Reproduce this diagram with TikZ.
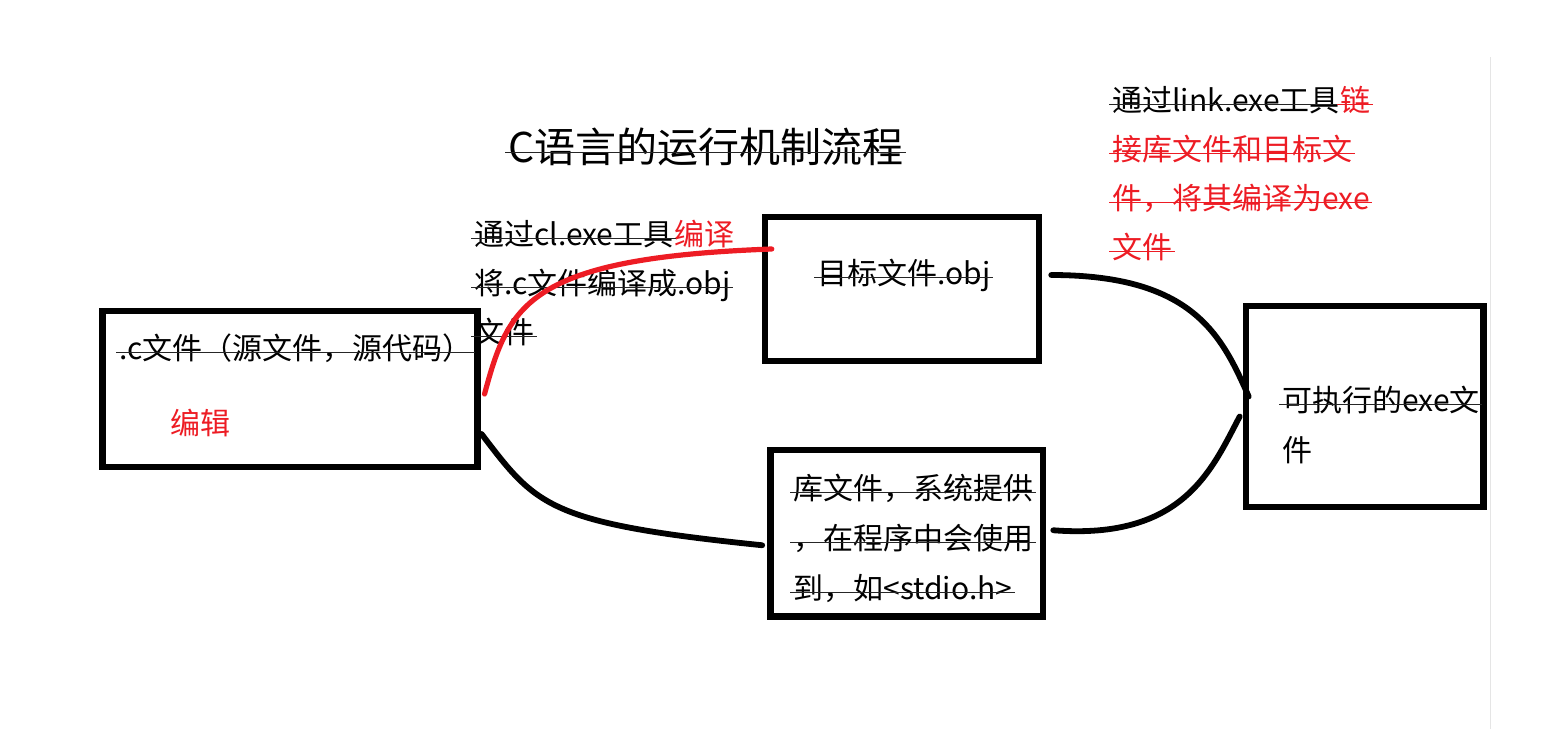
\documentclass[tikz,border=0pt]{standalone}
\usepackage{fontspec}
\setmainfont{Noto Sans CJK SC}
\usepackage{xcolor}
\usetikzlibrary{calc}

\definecolor{paintred}{RGB}{237,28,36}

\tikzset{
  box/.style={draw, line width=3.25pt, inner sep=0pt},
  txt/.style={anchor=base west, inner sep=0pt, font=\fontsize{15}{18}\selectfont},
  heading/.style={txt, font=\fontsize{20.5}{24}\selectfont},
  strk/.style={line width=0.85pt, black!85},
  flow/.style={line width=2.9pt, line cap=round},
  redflow/.style={line width=2.6pt, line cap=round, paintred}
}
% strike through one line of text: [colour]{node}{height above baseline}
\newcommand{\strikeline}[3][black!85]{%
  \draw[strk,#1] ([xshift=-1.5pt,yshift=#3]#2.base west) -- ([xshift=1pt,yshift=#3]#2.base east);}

\begin{document}
\begin{tikzpicture}[x=0.5pt,y=-0.5pt]
  \useasboundingbox (0,0) rectangle (1549,729);
  \draw[gray!20, line width=0.5pt] (1490,57) -- (1490,729);

  % title
  \node[heading] (title) at (508,162) {C语言的运行机制流程};
  \strikeline{title}{4.8pt}

  % boxes
  \node[box, minimum width=187.3pt, minimum height=78pt] (srcbox) at (290,389) {};
  \node[box, minimum width=137pt, minimum height=72pt] (objbox) at (902,289) {};
  \node[box, minimum width=136.3pt, minimum height=83.3pt] (libbox) at (906.75,533.25) {};
  \node[box, minimum width=118.8pt, minimum height=100.5pt] (exebox) at (1364.75,406.5) {};

  % texts in the boxes
  \node[txt] (src1) at (119,359) {.c文件（源文件，源代码）};
  \strikeline{src1}{3.2pt}
  \node[txt, text=paintred] (edit) at (170,434) {编辑};

  \node[txt] (obj1) at (817,284) {目标文件.obj};
  \strikeline{obj1}{3.2pt}

  \node[txt] (lib1) at (793,499) {库文件，系统提供};
  \node[txt] (lib2) at (793,549) {，在程序中会使用};
  \node[txt] (lib3) at (793,599) {到，如<stdio.h>};
  \strikeline{lib1}{3.2pt}
  \strikeline{lib2}{3.2pt}
  \strikeline{lib3}{3.2pt}

  \node[txt] (exe1) at (1282,411) {可执行的exe文};
  \strikeline{exe1}{3.2pt}
  \node[txt] (exe2) at (1282,461) {件};

  % compile note
  \node[txt] (cl1) at (474,245) {通过cl.exe工具};
  \node[txt, text=paintred] (cl1r) at (cl1.base east) {编译};
  \node[txt] (cl2) at (474,294) {将.c文件编译成.obj};
  \node[txt] (cl3) at (474,343) {文件};
  \strikeline{cl1}{3.2pt}
  \strikeline{cl2}{3.2pt}
  \strikeline{cl3}{3.2pt}

  % link note
  \node[txt] (lnk1) at (1112,111) {通过link.exe工具};
  \node[txt, text=paintred] (lnk1r) at (lnk1.base east) {链};
  \node[txt, text=paintred] (lnk2) at (1112,160) {接库文件和目标文};
  \node[txt, text=paintred] (lnk3) at (1112,209) {件，将其编译为exe};
  \node[txt, text=paintred] (lnk4) at (1112,258) {文件};
  \strikeline{lnk1}{3.2pt}
  \strikeline[paintred]{lnk1r}{3.2pt}
  \strikeline[paintred]{lnk2}{3.2pt}
  \strikeline[paintred]{lnk3}{3.2pt}
  \strikeline[paintred]{lnk4}{3.2pt}

  % connectors
  \draw[redflow] ($(srcbox.east)+(4,5)$) .. controls +(24,-89) and +(-245,9) .. ($(objbox.west)+(10,-40)$);
  \draw[flow] ($(srcbox.east)+(1,45)$) .. controls +(55,72) and +(-215,-22) .. ($(libbox.west)+(-5,12)$);
  \draw[flow] ($(objbox.east)+(9,-14)$) .. controls +(142,0) and +(-27,-61) .. ($(exebox.west)+(6,-10)$);
  \draw[flow] ($(libbox.east)+(7,-3)$) .. controls +(130,10) and +(-28,53) .. ($(exebox.west)+(-3,10)$);
\end{tikzpicture}
\end{document}
